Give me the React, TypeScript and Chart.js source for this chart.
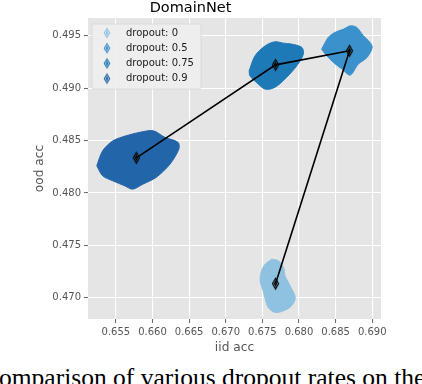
import React, { useEffect, useRef } from "react";
import { Chart, registerables } from "chart.js";

Chart.register(...registerables);

// ---- data ----
const seriesLabels = ["dropout: 0", "dropout: 0.5", "dropout: 0.75", "dropout: 0.9"];
const seriesColors = ["#8fc2e1", "#3a91cb", "#1e79b7", "#2265a8"];

// mean (iid acc, ood acc) per dropout rate, in legend order
const meanIid = [0.6768, 0.6869, 0.6768, 0.6578];
const meanOod = [0.47134, 0.49356, 0.49222, 0.48335];

// outlines of the bootstrap clouds (iid acc, ood acc)
const cloud0Iid = [0.6763, 0.6772, 0.6779, 0.6781, 0.6788, 0.6795, 0.679, 0.6779, 0.6767, 0.6758, 0.6754, 0.6751, 0.6747, 0.6749, 0.6754];
const cloud0Ood = [0.47368, 0.47352, 0.47289, 0.47209, 0.47113, 0.47003, 0.46923, 0.46875, 0.4686, 0.46907, 0.46987, 0.47066, 0.47161, 0.47257, 0.47321];

const cloud05Iid = [0.6831, 0.684, 0.6849, 0.6861, 0.687, 0.6879, 0.6888, 0.6897, 0.69, 0.6893, 0.6881, 0.687, 0.6859, 0.6847, 0.6836];
const cloud05Ood = [0.49372, 0.49484, 0.49531, 0.49563, 0.49594, 0.49579, 0.49499, 0.49436, 0.49388, 0.49293, 0.49229, 0.49124, 0.49181, 0.49245, 0.49324];

const cloud075Iid = [0.6732, 0.674, 0.6754, 0.6767, 0.6779, 0.679, 0.6804, 0.6806, 0.6797, 0.6783, 0.6767, 0.6754, 0.6742, 0.6733];
const cloud075Ood = [0.49165, 0.49308, 0.49404, 0.49442, 0.49429, 0.4942, 0.49388, 0.49324, 0.49213, 0.49102, 0.49007, 0.4899, 0.49054, 0.49117];

const cloud09Iid = [0.6524, 0.6532, 0.6546, 0.6564, 0.6582, 0.6601, 0.6617, 0.6635, 0.6636, 0.6624, 0.6605, 0.6587, 0.6573, 0.6562, 0.6546, 0.6532];
const cloud09Ood = [0.48259, 0.48402, 0.48497, 0.48545, 0.48577, 0.48593, 0.4853, 0.48482, 0.48418, 0.48275, 0.48148, 0.48084, 0.48036, 0.48068, 0.48115, 0.48163];

const xTicks = [0.655, 0.66, 0.665, 0.67, 0.675, 0.68, 0.685, 0.69];
const yTicks = [0.47, 0.475, 0.48, 0.485, 0.49, 0.495];

const titleText = "DomainNet";
const xTitle = "iid acc";
const yTitle = "ood acc";
const captionText = "Comparison of various dropout rates on the";

// ---- layout constants ----
const W = 422;
const H = 358;
const FONT = "DejaVu Sans";

function toPoints(xs: number[], ys: number[], close: boolean) {
  const pts = xs.map((x, i) => ({ x, y: ys[i] }));
  if (close) pts.push({ ...pts[0] });
  return pts;
}

function makeDiamond(stroke: string, fill: string, w: number, h: number, lw: number) {
  const c = document.createElement("canvas");
  c.width = Math.ceil(w + lw * 2 + 2);
  c.height = Math.ceil(h + lw * 2 + 2);
  const ctx = c.getContext("2d")!;
  const cx = c.width / 2;
  const cy = c.height / 2;
  const path = (ww: number, hh: number) => {
    ctx.beginPath();
    ctx.moveTo(cx, cy - hh / 2);
    ctx.lineTo(cx + ww / 2, cy);
    ctx.lineTo(cx, cy + hh / 2);
    ctx.lineTo(cx - ww / 2, cy);
    ctx.closePath();
  };
  path(w, h);
  ctx.fillStyle = fill;
  ctx.fill();
  ctx.lineWidth = lw;
  ctx.strokeStyle = stroke;
  ctx.stroke();
  path(w * 0.35, h * 0.4);
  ctx.stroke();
  return c;
}

const bgPlugin = {
  id: "ggBg",
  beforeDraw(chart: any) {
    const { ctx, chartArea } = chart;
    ctx.save();
    ctx.fillStyle = "#e5e5e5";
    ctx.fillRect(chartArea.left, chartArea.top, chartArea.right - chartArea.left, chartArea.bottom - chartArea.top);
    ctx.restore();
  },
};

const legendPlugin = {
  id: "boxLegend",
  afterDraw(chart: any) {
    const { ctx, chartArea } = chart;
    const x0 = chartArea.left + 4;
    const y0 = chartArea.top + 6;
    const w = 109;
    const h = 65;
    ctx.save();
    ctx.beginPath();
    const r = 2;
    ctx.moveTo(x0 + r, y0);
    ctx.lineTo(x0 + w - r, y0);
    ctx.quadraticCurveTo(x0 + w, y0, x0 + w, y0 + r);
    ctx.lineTo(x0 + w, y0 + h - r);
    ctx.quadraticCurveTo(x0 + w, y0 + h, x0 + w - r, y0 + h);
    ctx.lineTo(x0 + r, y0 + h);
    ctx.quadraticCurveTo(x0, y0 + h, x0, y0 + h - r);
    ctx.lineTo(x0, y0 + r);
    ctx.quadraticCurveTo(x0, y0, x0 + r, y0);
    ctx.closePath();
    ctx.fillStyle = "rgba(238,238,238,0.9)";
    ctx.fill();
    ctx.strokeStyle = "#d6d6d6";
    ctx.lineWidth = 0.8;
    ctx.stroke();
    ctx.font = `10px "${FONT}"`;
    ctx.textBaseline = "middle";
    ctx.textAlign = "left";
    seriesLabels.forEach((label, i) => {
      const cy = y0 + 9 + i * 15.2;
      const img = makeDiamond(seriesColors[i], "rgba(255,255,255,0.35)", 5.5, 9, 1.1);
      ctx.drawImage(img, x0 + 15 - img.width / 2, cy - img.height / 2);
      ctx.fillStyle = "#1a1a1a";
      ctx.fillText(label, x0 + 34, cy);
    });
    ctx.restore();
  },
};

export default function App() {
  const ref = useRef<HTMLCanvasElement | null>(null);

  useEffect(() => {
    if (!ref.current) return;
    const meanMarker = makeDiamond("#000000", "rgba(255,255,255,0.15)", 6, 10.5, 1.2);
    const clouds = [
      [cloud0Iid, cloud0Ood],
      [cloud05Iid, cloud05Ood],
      [cloud075Iid, cloud075Ood],
      [cloud09Iid, cloud09Ood],
    ];
    const cloudSets = clouds.map(([xs, ys], i) => ({
      label: seriesLabels[i],
      data: toPoints(xs, ys, true),
      showLine: true,
      fill: "shape",
      backgroundColor: seriesColors[i],
      borderColor: seriesColors[i],
      borderWidth: 1,
      pointRadius: 0,
      tension: 0.3,
      order: 10 - i,
    }));
    const meanSet = {
      label: "mean",
      data: toPoints(meanIid, meanOod, false),
      showLine: true,
      fill: false,
      borderColor: "#000000",
      borderWidth: 1.6,
      pointStyle: meanMarker,
      pointRadius: 5,
      tension: 0,
      order: 0,
    };

    const tickFont = { family: FONT, size: 10 };
    const chart = new Chart(ref.current, {
      type: "scatter",
      data: { datasets: [meanSet, ...cloudSets] as any },
      options: {
        responsive: false,
        animation: false,
        events: [],
        layout: { padding: { left: 0, right: 41, top: 0, bottom: 0 } },
        plugins: {
          legend: { display: false },
          tooltip: { enabled: false },
          title: {
            display: true,
            text: titleText,
            color: "#000000",
            font: { family: FONT, size: 14.5, weight: "normal" },
            padding: { top: 0, bottom: 0.6 },
          },
        },
        scales: {
          x: {
            type: "linear",
            min: 0.6512,
            max: 0.6912,
            afterBuildTicks: (s: any) => {
              s.ticks = xTicks.map((v) => ({ value: v }));
            },
            afterFit: (s: any) => {
              s.height = H - 319;
            },
            grid: { color: "#ffffff", lineWidth: 1.1, tickColor: "#555555", tickLength: 4, tickWidth: 0.9 },
            border: { display: false },
            ticks: {
              color: "#555555",
              font: tickFont,
              padding: 3,
              maxRotation: 0,
              autoSkip: false,
              callback: (v: any) => Number(v).toFixed(3),
            },
            title: {
              display: true,
              text: xTitle,
              color: "#555555",
              font: { family: FONT, size: 12.2 },
              padding: { top: 0, bottom: 3.2 },
            },
          },
          y: {
            type: "linear",
            min: 0.46797,
            max: 0.49669,
            afterBuildTicks: (s: any) => {
              s.ticks = yTicks.map((v) => ({ value: v }));
            },
            afterFit: (s: any) => {
              s.width = 88;
            },
            grid: { color: "#ffffff", lineWidth: 1.1, tickColor: "#555555", tickLength: 4, tickWidth: 0.9 },
            border: { display: false },
            ticks: {
              color: "#555555",
              font: tickFont,
              padding: 3,
              autoSkip: false,
              callback: (v: any) => Number(v).toFixed(3),
            },
            title: {
              display: true,
              text: yTitle,
              color: "#555555",
              font: { family: FONT, size: 12.2 },
              padding: { top: 33, bottom: 0 },
            },
          },
        },
      } as any,
      plugins: [bgPlugin, legendPlugin],
    });
    return () => chart.destroy();
  }, []);

  return (
    <div
      style={{
        position: "fixed",
        left: 0,
        top: 0,
        width: W,
        height: 384,
        overflow: "hidden",
        background: "#ffffff",
      }}
    >
      <canvas ref={ref} width={W} height={H} style={{ display: "block", width: W, height: H }} />
      <div
        style={{
          position: "absolute",
          left: -18,
          top: 365,
          fontFamily: '"Liberation Serif", serif',
          fontSize: 25.5,
          lineHeight: "25.5px",
          whiteSpace: "nowrap",
          color: "#000000",
        }}
      >
        {captionText}
      </div>
    </div>
  );
}
